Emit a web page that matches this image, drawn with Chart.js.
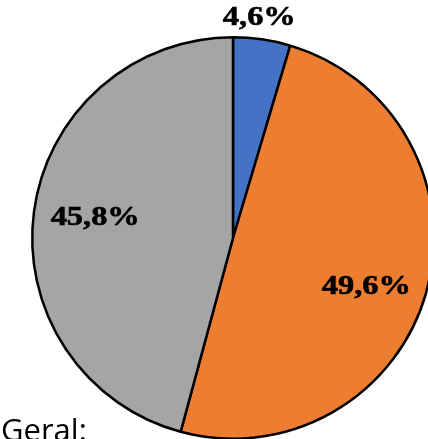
<!DOCTYPE html>
<html>
<head>
<meta charset="utf-8">
<script src="https://cdn.jsdelivr.net/npm/chart.js@4.4.1/dist/chart.umd.min.js"></script>
<style>
  html, body { margin: 0; padding: 0; overflow: hidden; background: #fff; width: 428px; height: 439px; }
  #wrap { position: absolute; left: 0; top: 0; width: 470px; height: 480px; }
  #caption {
    position: absolute; left: 1px; top: 414px;
    font-family: "Open Sans", sans-serif; font-size: 31px; color: #000;
    line-height: 1; white-space: nowrap;
  }
</style>
</head>
<body>
<div id="wrap"><canvas id="pieChart" width="470" height="480"></canvas></div>
<div id="caption">Geral:</div>
<script>
// share of each group, in percent
const categories = ['Grupo 1', 'Grupo 2', 'Grupo 3'];
const shares = [4.6, 49.6, 45.8];
const sliceColors = ['#4472C4', '#ED7D31', '#A5A5A5'];

// where each value label sits: fraction of the radius and a small angle nudge (deg)
const labelPlace = [
  { r: 1.11, da: -1.5 },
  { r: 0.705, da: 3.8 },
  { r: 0.694, da: 0.9 }
];

// percent labels drawn in bold serif, slightly widened
const pieLabels = {
  id: 'pieLabels',
  afterDatasetsDraw(chart) {
    const ctx = chart.ctx;
    const meta = chart.getDatasetMeta(0);
    ctx.save();
    ctx.font = 'bold 27px "Liberation Serif", "Times New Roman", serif';
    ctx.fillStyle = '#000';
    ctx.strokeStyle = '#000';
    ctx.lineWidth = 0.6;
    ctx.textAlign = 'center';
    ctx.textBaseline = 'middle';
    meta.data.forEach((arc, i) => {
      const p = arc.getProps(['x', 'y', 'startAngle', 'endAngle', 'outerRadius'], true);
      const mid = (p.startAngle + p.endAngle) / 2 + labelPlace[i].da * Math.PI / 180;
      const rr = p.outerRadius * labelPlace[i].r;
      const lx = p.x + Math.cos(mid) * rr;
      const ly = p.y + Math.sin(mid) * rr;
      const txt = shares[i].toFixed(1).replace('.', ',') + '%';
      ctx.save();
      ctx.translate(lx, ly);
      ctx.scale(1.2, 1);
      ctx.fillText(txt, 0, 1);
      ctx.strokeText(txt, 0, 1);
      ctx.restore();
    });
    ctx.restore();
  }
};

const ctx = document.getElementById('pieChart').getContext('2d');
const pieChart = new Chart(ctx, {
  type: 'pie',
  data: {
    labels: categories,
    datasets: [{
      data: shares,
      backgroundColor: sliceColors,
      borderColor: '#000',
      borderWidth: 2.5
    }]
  },
  options: {
    responsive: false,
    animation: false,
    layout: { padding: { left: 31, right: 35, top: 36, bottom: 40 } },
    plugins: {
      legend: { display: false },
      tooltip: { enabled: false }
    }
  },
  plugins: [pieLabels]
});
</script>
</body>
</html>
